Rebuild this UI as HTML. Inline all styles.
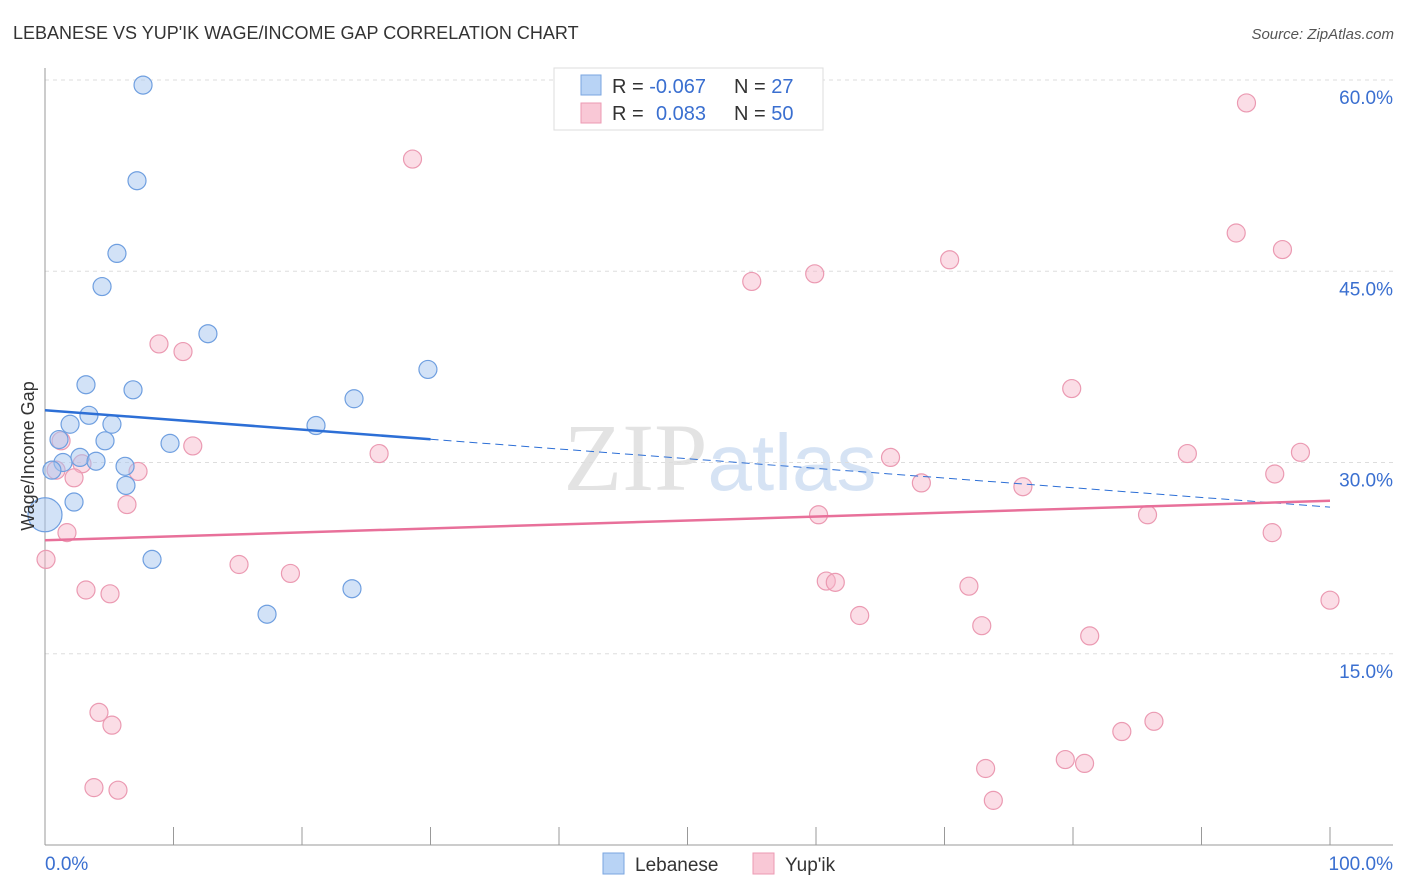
<!DOCTYPE html>
<html><head><meta charset="utf-8"><style>
body{margin:0;background:#fff;font-family:"Liberation Sans",sans-serif}
</style></head><body>
<svg id="c" width="1406" height="892" xmlns="http://www.w3.org/2000/svg" style="display:block">
<text x="13" y="39" font-size="18" fill="#333">LEBANESE VS YUP'IK WAGE/INCOME GAP CORRELATION CHART</text>
<text x="1394" y="39" font-size="15" fill="#555" text-anchor="end" font-style="italic">Source: ZipAtlas.com</text>
<text x="720" y="490" font-size="96" fill="#d8d8d8" text-anchor="middle" font-family="Liberation Serif,serif" opacity="0.7">ZIP<tspan fill="#c5d8f0" font-family="Liberation Sans,sans-serif" font-size="80">atlas</tspan></text>
<g id="grid"></g><g id="pts"></g><g id="trend"></g>
<text transform="translate(34,456) rotate(-90)" font-size="18" fill="#333" text-anchor="middle">Wage/Income Gap</text>
<g>
<rect x="554" y="68" width="269" height="62" fill="#fff" stroke="#ddd"/>
<rect x="581" y="75" width="20" height="20" fill="#b8d3f5" stroke="#7aa6e0"/>
<rect x="581" y="103" width="20" height="20" fill="#f9c8d6" stroke="#ec9ab3"/>
<text x="612" y="93" font-size="20" fill="#333">R = <tspan fill="#3a6fd0">-0.067</tspan><tspan x="734">N = </tspan><tspan fill="#3a6fd0">27</tspan></text>
<text x="612" y="120" font-size="20" fill="#333">R = <tspan x="656" fill="#3a6fd0">0.083</tspan><tspan x="734">N = </tspan><tspan fill="#3a6fd0">50</tspan></text>
</g>
<g>
<rect x="603" y="853" width="21" height="21" fill="#b8d3f5" stroke="#7aa6e0"/>
<text x="635" y="871" font-size="19" fill="#333">Lebanese</text>
<rect x="753" y="853" width="21" height="21" fill="#f9c8d6" stroke="#ec9ab3"/>
<text x="785" y="871" font-size="19" fill="#333">Yup'ik</text>
</g>
<text x="45" y="870" font-size="19" fill="#3a6fd0">0.0%</text>
<text x="1393" y="870" font-size="19" fill="#3a6fd0" text-anchor="end">100.0%</text>
</svg>
<script>
const blueX=[7.63,7.16,5.6,4.44,12.68,3.19,6.85,29.8,24.05,3.42,1.95,5.21,21.09,1.09,4.67,9.73,2.72,1.4,3.97,0.54,6.23,6.3,2.26,0,8.33,23.89,17.28];
const blueY=[59.6,52.1,46.4,43.8,40.1,36.1,35.7,37.3,35.0,33.7,33.0,33.0,32.9,31.8,31.7,31.5,30.4,30.0,30.1,29.4,29.7,28.2,26.9,25.9,22.4,20.1,18.1];
const blueBig=[0,0,0,0,0,0,0,0,0,0,0,0,0,0,0,0,0,0,0,0,0,0,0,1,0,0,0];
const pinkX=[93.5,28.6,92.7,96.3,70.4,59.9,55.0,8.87,10.74,79.9,1.25,11.5,65.8,26.0,88.9,97.7,2.88,0.86,7.24,2.26,68.2,95.7,76.1,6.38,60.2,85.8,1.71,95.5,0.08,15.1,19.1,60.8,61.5,71.9,3.19,5.06,100,63.4,72.9,81.3,4.2,5.21,86.3,83.8,79.4,80.9,73.2,3.81,5.68,73.8];
const pinkY=[58.2,53.8,48.0,46.7,45.9,44.8,44.2,39.3,38.7,35.8,31.7,31.3,30.4,30.7,30.7,30.8,29.9,29.4,29.3,28.8,28.4,29.1,28.1,26.7,25.9,25.9,24.5,24.5,22.4,22.0,21.3,20.7,20.6,20.3,20.0,19.7,19.2,18.0,17.2,16.4,10.4,9.4,9.7,8.9,6.7,6.4,6.0,4.5,4.3,3.5];
const yTicks=[15,30,45,60];
const yTickLabels=["15.0%","30.0%","45.0%","60.0%"];
const xTicks=[0,10,20,30,40,50,60,70,80,90,100];
const blueTrend=[34.1,26.5];
const pinkTrend=[23.9,27.0];
const blueSolidEnd=30;
const NS="http://www.w3.org/2000/svg";
const sx=v=>45+v*12.85, sy=v=>845-v*12.75;
function mk(tag,attrs,parent){const e=document.createElementNS(NS,tag);for(const k in attrs)e.setAttribute(k,attrs[k]);parent.appendChild(e);return e;}
const grid=document.getElementById('grid');
yTicks.forEach((t,i)=>{
 const l=mk('line',{x1:45,x2:1393,y1:sy(t),y2:sy(t),stroke:'#ddd','stroke-dasharray':'4,4'},grid);
 
 
 const tx=mk('text',{x:1393,y:sy(t)+24,'font-size':19,fill:'#3a6fd0','text-anchor':'end'},grid);
 tx.textContent=yTickLabels[i];
 
 
});
const ax=mk('line',{x1:45,x2:1393,y1:845,y2:845,stroke:'#999'},grid);


const ay=mk('line',{x1:45,x2:45,y1:68,y2:845,stroke:'#999'},grid);


xTicks.forEach(t=>{
 const l=mk('line',{x1:sx(t),x2:sx(t),y1:827,y2:845,stroke:'#999'},grid);
 
 
});
const pts=document.getElementById('pts');
pinkX.forEach((x,i)=>{
 const c=mk('circle',{cx:sx(x),cy:sy(pinkY[i]),r:9,fill:'rgba(246,180,200,0.45)',stroke:'#eb9ab2','stroke-width':1.2},pts);
 
 
});
blueX.forEach((x,i)=>{
 const c=mk('circle',{cx:sx(x),cy:sy(blueY[i]),r:blueBig[i]?17:9,fill:'rgba(165,198,240,0.5)',stroke:'#6f9fe0','stroke-width':1.2},pts);
 
 
});
const tr=document.getElementById('trend');
const by=x=>blueTrend[0]+(blueTrend[1]-blueTrend[0])*x/100;
const b1=mk('line',{x1:sx(0),y1:sy(by(0)),x2:sx(blueSolidEnd),y2:sy(by(blueSolidEnd)),stroke:'#2d6fd6','stroke-width':2.5},tr);


const b2=mk('line',{x1:sx(blueSolidEnd),y1:sy(by(blueSolidEnd)),x2:sx(100),y2:sy(by(100)),stroke:'#2d6fd6','stroke-width':1,'stroke-dasharray':'8,5'},tr);


const p1=mk('line',{x1:sx(0),y1:sy(pinkTrend[0]),x2:sx(100),y2:sy(pinkTrend[1]),stroke:'#e8709a','stroke-width':2.5},tr);


</script>
</body></html>
